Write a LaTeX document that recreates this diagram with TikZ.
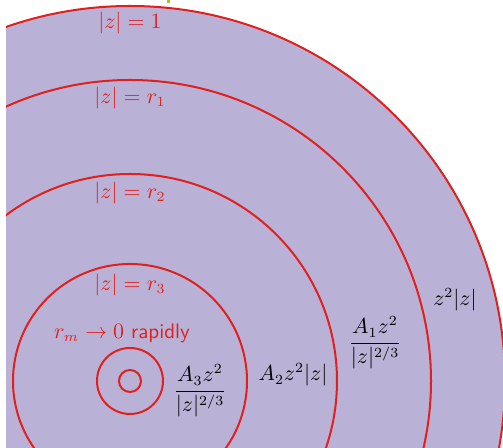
\documentclass[tikz,border=0pt]{standalone}
\usepackage{amsmath,amssymb}
\usepackage{xcolor}
\usepackage{tikz}
\usetikzlibrary{positioning}
\definecolor{disk}{HTML}{BAB2D6}
\definecolor{ring}{HTML}{E0201E}
\definecolor{tick}{HTML}{A8C41E}
\tikzset{
  circ/.style={draw=ring, line width=1pt},
  rlab/.style={text=ring, font=\fontsize{10.5}{12.6}\selectfont, inner sep=1pt},
  blab/.style={text=black, font=\fontsize{10.5}{12.6}\selectfont, inner sep=1pt},
}
\begin{document}
\begin{tikzpicture}[x=0.5pt,y=0.5pt]
  \useasboundingbox (0,0) rectangle (503,448);
  \coordinate (o) at (130,67);
  \begin{scope}
    \clip (6,0) rectangle (503,448);
    \fill[disk] (o) circle[radius=375];
    \draw[circ] (o) circle[radius=375];
    \draw[circ] (o) circle[radius=301];
    \draw[circ] (o) circle[radius=207];
    \draw[circ] (o) circle[radius=117];
    \draw[circ] (o) circle[radius=33];
    \draw[circ] (o) circle[radius=11];
  \end{scope}
  \fill[tick] (166.5,445) rectangle (169.5,448);
  % labels of the circles
  \node[rlab] (one) at (130,425) {$|z|=1$};
  \node[rlab] (rone) at (130,350) {$|z|=r_1$};
  \node[rlab] (rtwo) at (130,255) {$|z|=r_2$};
  \node[rlab] (rthree) at (130,163) {$|z|=r_3$};
  \node[rlab] (rapid) at (122,115) {$r_m\to 0$ \textsf{rapidly}};
  % terms in the rings
  \node[blab] (athree) at (200,57) {$\dfrac{A_3z^2}{|z|^{2/3}}$};
  \node[blab] (atwo) at (293,73) {$A_2z^2|z|$};
  \node[blab] (aone) at (375,105) {$\dfrac{A_1z^2}{|z|^{2/3}}$};
  \node[blab] (zz) at (455,148) {$z^2|z|$};
\end{tikzpicture}
\end{document}
